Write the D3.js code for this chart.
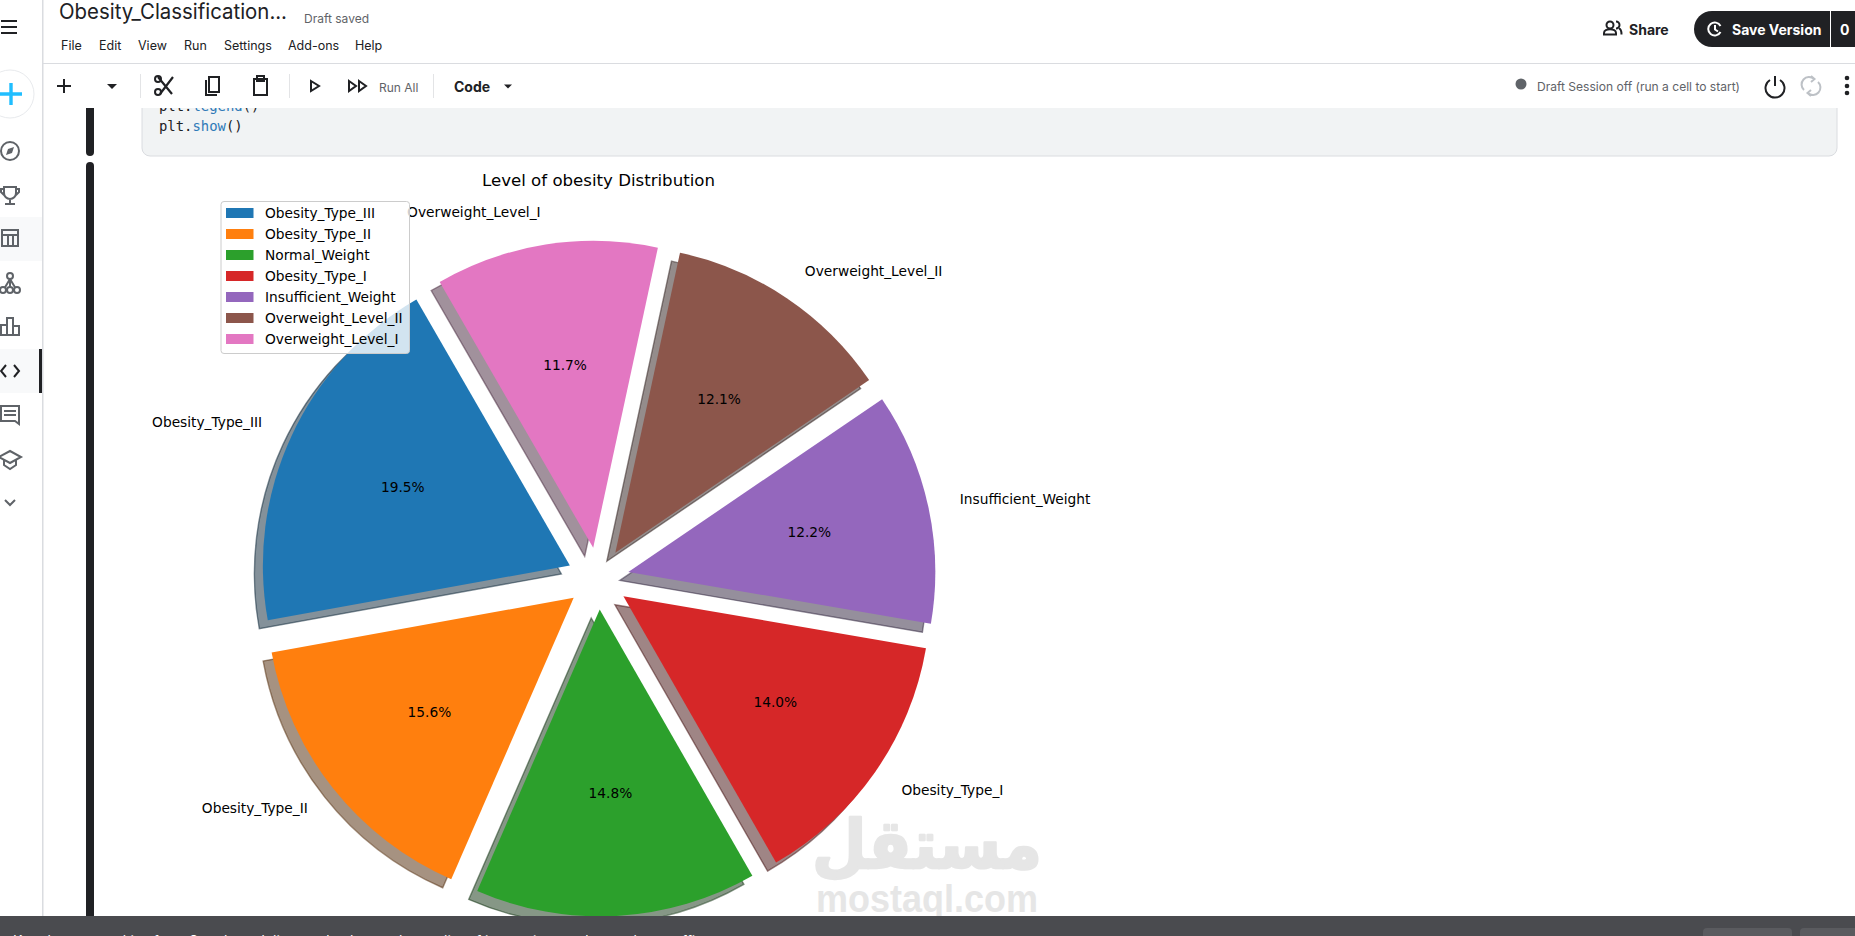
<!DOCTYPE html>
<html><head><meta charset="utf-8">
<script src="https://cdn.jsdelivr.net/npm/d3@7/dist/d3.min.js"></script>
<style>
html,body{margin:0;padding:0;background:#fff;overflow:hidden;width:1855px;height:936px}
svg{display:block}
</style></head><body>
<svg id="c" width="1855" height="936"></svg>
<script>
const categories=["Obesity_Type_III","Obesity_Type_II","Normal_Weight","Obesity_Type_I","Insufficient_Weight","Overweight_Level_II","Overweight_Level_I"];
const percentages=[19.5,15.6,14.8,14.0,12.2,12.1,11.7];
const colors=["#1f77b4","#ff7f0e","#2ca02c","#d62728","#9467bd","#8c564b","#e377c2"];
const chartTitle="Level of obesity Distribution";
const menuItems=[["File",61],["Edit",99],["View",138],["Run",184],["Settings",224],["Add-ons",288],["Help",355]];

const svg=d3.select("#c");
const UI="Inter, Roboto, sans-serif", MPL="'DejaVu Sans', sans-serif";
function txt(g,s,x,y,size,fill,o={}){return g.append("text").attr("x",x).attr("y",y).attr("font-size",size).attr("fill",fill)
  .attr("font-family",o.font||UI).attr("font-weight",o.weight||400).attr("text-anchor",o.anchor||"start").attr("dominant-baseline","central").text(s);}

/* ---------- page behind the chart ---------- */
const page=svg.append("g");
page.append("path").attr("d","M142 100H1837V148a8 8 0 0 1-8 8H150a8 8 0 0 1-8-8Z").attr("fill","#f1f3f4").attr("stroke","#dadce0");
page.append("rect").attr("x",86).attr("y",90).attr("width",8).attr("height",66).attr("rx",4).attr("fill","#202124");
page.append("rect").attr("x",86).attr("y",162).attr("width",8).attr("height",774).attr("rx",4).attr("fill","#202124");
const code=page.append("text").attr("x",159).attr("y",106).attr("font-family","'DejaVu Sans Mono',monospace").attr("font-size",13.9).attr("dominant-baseline","central").attr("fill","#202124");
code.append("tspan").text("plt.");code.append("tspan").attr("fill","#2f7ab8").text("legend");code.append("tspan").text("()");
const code2=page.append("text").attr("x",159).attr("y",126).attr("font-family","'DejaVu Sans Mono',monospace").attr("font-size",13.9).attr("dominant-baseline","central").attr("fill","#202124");
code2.append("tspan").text("plt.");code2.append("tspan").attr("fill","#2f7ab8").text("show");code2.append("tspan").text("()");

/* ---------- the pie ---------- */
const cx=598, cy=578.5, R=307, explode=31, shadowOff=8.5;
const deg=Math.PI/180;
const pie=d3.pie().sort(null).value(d=>d.value).startAngle(-30*deg).endAngle(-390*deg);
const slices=pie(categories.map((name,i)=>({name,value:percentages[i],color:colors[i]})));
const arc=d3.arc().innerRadius(0).outerRadius(R);
const mid=d=>(d.startAngle+d.endAngle)/2;
const polar=(d,r)=>[r*Math.sin(mid(d)),-r*Math.cos(mid(d))];
const chart=svg.append("g").attr("transform",`translate(${cx},${cy})`);
const shift=d=>polar(d,explode);
// shadows
chart.selectAll("path.shadow").data(slices).join("path").attr("class","shadow")
  .attr("d",arc).attr("transform",d=>{const p=shift(d);return `translate(${p[0]-shadowOff},${p[1]+shadowOff})`;})
  .attr("fill",d=>{const c=d3.rgb(d.data.color);return d3.rgb(c.r*.3,c.g*.3,c.b*.3);}).attr("fill-opacity",.5)
  .attr("stroke",d=>{const c=d3.rgb(d.data.color);return d3.rgb(c.r*.3,c.g*.3,c.b*.3);}).attr("stroke-opacity",.5).attr("stroke-width",1.4);
// wedges
chart.selectAll("path.wedge").data(slices).join("path").attr("class","wedge")
  .attr("d",arc).attr("transform",d=>{const p=shift(d);return `translate(${p[0]},${p[1]})`;})
  .attr("fill",d=>d.data.color);
// outer labels
slices.forEach(d=>{const p=polar(d,R*1.1+explode+1.5);
  txt(chart,d.data.name,p[0],p[1]-.5,13.75,"#000",{font:MPL,anchor:p[0]>0?"start":"end"});});
// percentages
slices.forEach(d=>{const p=polar(d,R*.6+explode+.5);
  txt(chart,d.data.value.toFixed(1)+"%",p[0]+.5,p[1]-.5,13.75,"#000",{font:MPL,anchor:"middle"});});
txt(svg,chartTitle,598.5,180,16.6,"#000",{font:MPL,anchor:"middle"});

// legend
const lg=svg.append("g");
lg.append("rect").attr("x",221).attr("y",201.5).attr("width",188.5).attr("height",152).attr("rx",3)
  .attr("fill","#fff").attr("fill-opacity",.8).attr("stroke","#ccc").attr("stroke-width",1);
const ly=d3.scalePoint().domain(categories).range([213,339]);
categories.forEach((n,i)=>{
  lg.append("rect").attr("x",226).attr("y",ly(n)-5).attr("width",27.5).attr("height",10).attr("fill",colors[i]);
  txt(lg,n,265,ly(n),13.75,"#000",{font:MPL});
});

/* ---------- watermark ---------- */
function fit(sel,x0,x1,y0,y1){const b=sel.node().getBBox();
  sel.attr("transform",`translate(${x0},${y0}) scale(${(x1-x0)/b.width},${(y1-y0)/b.height}) translate(${-b.x},${-b.y})`);}
const wm=svg.append("g");
const w1=wm.append("text").attr("font-family","'DejaVu Sans',sans-serif").attr("font-weight",700).attr("font-size",60).attr("fill","#e6e6e6")
  .attr("stroke","#e6e6e6").attr("stroke-width",2.2).attr("stroke-linejoin","round").text("مستقل");
fit(w1,812,1042,805,884);
const w2=wm.append("text").attr("font-family","'Liberation Sans',sans-serif").attr("font-weight",700).attr("font-size",36).attr("fill","#e6e6e6").attr("x",816).attr("y",910).text("mostaql.com");
fit(w2,816,1038,876.5,920.5);

/* ---------- chrome ---------- */
const ch=svg.append("g");
ch.append("rect").attr("x",0).attr("y",0).attr("width",1855).attr("height",108).attr("fill","#fff");
ch.append("rect").attr("x",0).attr("y",0).attr("width",43).attr("height",936).attr("fill","#fff");
ch.append("rect").attr("x",43).attr("y",63).attr("width",1812).attr("height",1).attr("fill","#dadce0");
ch.append("rect").attr("x",42).attr("y",0).attr("width",1.5).attr("height",936).attr("fill","#dadce0");
txt(ch,"Obesity_Classification...",59,11,21,"#202124").attr("textLength",228).attr("lengthAdjust","spacingAndGlyphs");
txt(ch,"Draft saved",304,18,12,"#5f6368");
menuItems.forEach(([t,x])=>txt(ch,t,x,45,12.5,"#202124"));

// toolbar
const ln=(d,c="#202124",w=2)=>ch.append("path").attr("d",d).attr("fill","none").attr("stroke",c).attr("stroke-width",w);
const fl=(d,c="#202124")=>ch.append("path").attr("d",d).attr("fill",c);
ln("M57 86H71M64 79V93");
fl("M107 84H117L112 89Z");
[140,289,433].forEach(x=>ch.append("rect").attr("x",x).attr("y",74).attr("width",1).attr("height",24).attr("fill","#e3e4e6"));
// scissors
ln("M158 77L172 94M173 77L160 94",'#202124',2.2);
ch.append("circle").attr("cx",158).attr("cy",79).attr("r",3).attr("fill","none").attr("stroke","#202124").attr("stroke-width",2);
ch.append("circle").attr("cx",158).attr("cy",92).attr("r",3).attr("fill","none").attr("stroke","#202124").attr("stroke-width",2);
// copy
ln("M206 80V95H217M209 77H219V92H209Z");
// paste
ln("M255 79H267V95H254V79H255M257 76H264V81H257Z");
// play
ln("M311 81L319 86L311 91Z");
ln("M349 81L356 86L349 91ZM359 81L366 86L359 91Z");
txt(ch,"Run All",379,87,12,"#5f6368");
txt(ch,"Code",454,86,14,"#202124",{weight:700});
fl("M504 84.5H512L508 88.5Z");

// right header
ln("M1604 34.5V33C1604 28 1616 28 1616 33V34.5ZM1619 28.5C1621 29 1621.500 31 1621.500 34.5");
ch.append("circle").attr("cx",1610).attr("cy",25).attr("r",3.5).attr("fill","none").attr("stroke","#202124").attr("stroke-width",2);
ln("M1616 21.500A3.500 3.500 0 0 1 1616 28.500");
txt(ch,"Share",1629,29,14,"#202124",{weight:700});
ch.append("rect").attr("x",1694).attr("y",11).attr("width",180).attr("height",36).attr("rx",18).attr("fill","#202124");
ch.append("path").attr("d","M1720.500 26A6.500 6.500 0 1 0 1720.500 32M1715 25V29.500L1718 31.500").attr("fill","none").attr("stroke","#fff").attr("stroke-width",2);
txt(ch,"Save Version",1732,29,14,"#fff",{weight:700});
ch.append("rect").attr("x",1830).attr("y",11).attr("width",1).attr("height",36).attr("fill","#fff");
txt(ch,"0",1840,29,14,"#fff",{weight:700});
ch.append("circle").attr("cx",1521).attr("cy",84).attr("r",5.5).attr("fill","#5f6368");
txt(ch,"Draft Session off (run a cell to start)",1537,86,12.05,"#5f6368");
ln("M1770 80A9.5 9.5 0 1 0 1780 80M1775 76V86");
ln("M1804 90A7 7 0 0 1 1814 79M1811 76L1814.500 79L1811 82M1818 82A7 7 0 0 1 1808 93M1811 90L1807.500 93L1811 96","#bdc1c6");
[78,86,93].forEach(y=>ch.append("circle").attr("cx",1847).attr("cy",y).attr("r",2.3).attr("fill","#202124"));

// sidebar
ch.append("rect").attr("x",0).attr("y",217).attr("width",42).attr("height",44).attr("fill","#f8f9fa");
ch.append("rect").attr("x",0).attr("y",349).attr("width",42).attr("height",44).attr("fill","#f8f9fa");
ch.append("rect").attr("x",39).attr("y",349).attr("width",3).attr("height",44).attr("fill","#202124");
ln("M1 21H17M1 27H17M1 33H17");
ch.append("circle").attr("cx",10).attr("cy",94).attr("r",24).attr("fill","#fff").attr("stroke","#e8eaed");
ln("M0 94H22M11 83V105","#20beff",3.4);
const I="#5f6368";
ch.append("circle").attr("cx",10).attr("cy",151).attr("r",9).attr("fill","none").attr("stroke",I).attr("stroke-width",2);
fl("M14 147L12 153L6 155L8 149Z",I);
ln("M4 187H16V193A6 6 0 0 1 4 193ZM10 199V203M5 204H15M4 189H1V192L4 195M16 189H19V192L16 195",I);
ln("M2 230H18V246H2ZM2 235H18M8 235V246M13 235V246",I);
ln("M10 279L4 289M10 279L16 289M10 281V289",I);
[[10,276],[3,290],[10,290],[17,290]].forEach(p=>ch.append("circle").attr("cx",p[0]).attr("cy",p[1]).attr("r",3).attr("fill","#fff").attr("stroke",I).attr("stroke-width",2));
ln("M1 325H7V335H1ZM7 318H13V335H7ZM13 326H19V335H13Z",I);
ln("M6 365L1 371L6 377M14 365L19 371L14 377","#202124");
ln("M1 406H19V424L15 421H1ZM4 411H16M4 415H16",I);
ln("M10 451L21 457L10 463L-1 457ZM4 460V465L10 469L16 465V460",I);
ln("M5 500L10 505L15 500",I);

// bottom bar
ch.append("rect").attr("x",0).attr("y",916).attr("width",1855).attr("height",20).attr("fill","#4a4b4f");
ch.append("rect").attr("x",1703).attr("y",928).attr("width",89).attr("height",20).attr("rx",4).attr("fill","#5a5b5f");
ch.append("rect").attr("x",1800).attr("y",928).attr("width",60).attr("height",20).attr("rx",4).attr("fill","#5a5b5f");
ch.append("text").attr("x",13).attr("y",945.5).attr("font-family",UI).attr("font-size",14).attr("fill","#fff")
  .text("Kaggle uses cookies from Google to deliver and enhance the quality of its services and to analyze traffic.");
</script>
</body></html>
